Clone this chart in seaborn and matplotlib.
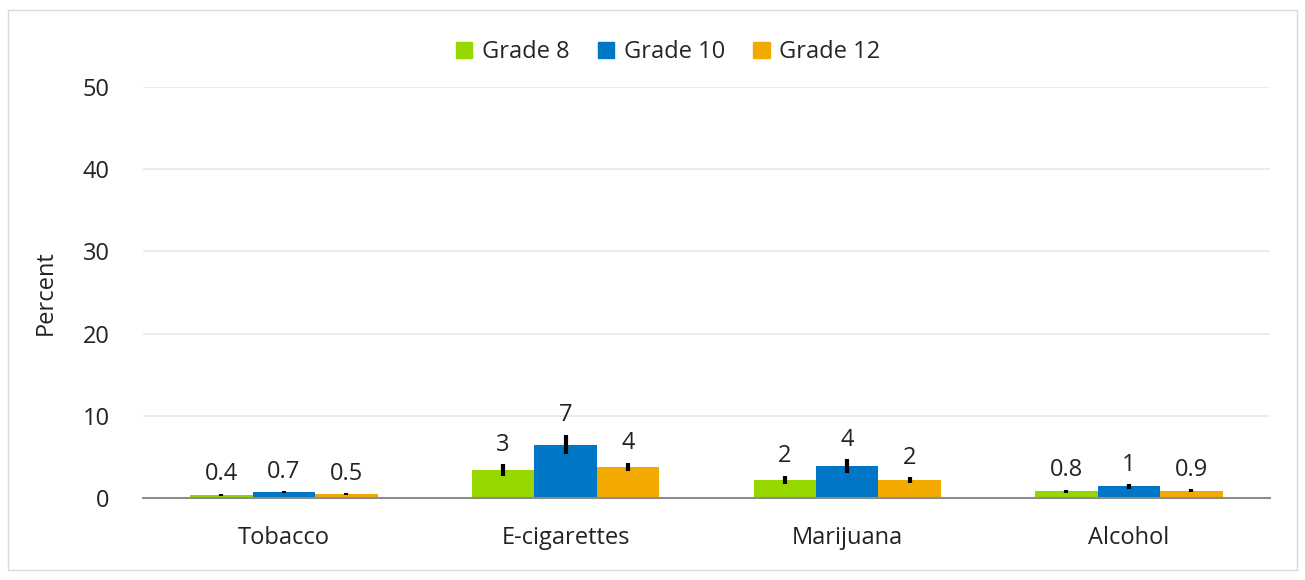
import matplotlib.pyplot as plt
import matplotlib.patches as mpatches
import seaborn as sns
import pandas as pd

# ── Data ──────────────────────────────────────────────────────────────────────

substances = ["Tobacco", "E-cigarettes", "Marijuana", "Alcohol"]
grades = ["Grade 8", "Grade 10", "Grade 12"]

grade8 = [0.4, 3.4, 2.2, 0.8]
grade10 = [0.7, 6.5, 3.9, 1.4]
grade12 = [0.5, 3.8, 2.2, 0.9]

err8 = [0.1, 0.7, 0.5, 0.2]
err10 = [0.1, 1.2, 0.85, 0.3]
err12 = [0.1, 0.5, 0.35, 0.15]

labels8 = ["0.4", "3", "2", "0.8"]
labels10 = ["0.7", "7", "4", "1"]
labels12 = ["0.5", "4", "2", "0.9"]

PALETTE = {"Grade 8": "#97d700", "Grade 10": "#0076c6", "Grade 12": "#f2a900"}
FS = 17

# ── Config ────────────────────────────────────────────────────────────────────

sns.set_theme(style="white")
plt.rcParams["font.family"] = ["Open Sans", "DejaVu Sans"]

rows = []
for g, vals, errs, labs in [
    ("Grade 8", grade8, err8, labels8),
    ("Grade 10", grade10, err10, labels10),
    ("Grade 12", grade12, err12, labels12),
]:
    for s, v, e, l in zip(substances, vals, errs, labs):
        rows.append({"Substance": s, "Grade": g, "Percent": v, "err": e, "label": l})
df = pd.DataFrame(rows)

# ── Plot ──────────────────────────────────────────────────────────────────────

fig = plt.figure(figsize=(13.05, 5.8), dpi=100)
ax = fig.add_axes([0.1096, 0.1414, 0.8634, 0.7086])

sns.barplot(
    data=df,
    x="Substance",
    y="Percent",
    hue="Grade",
    order=substances,
    hue_order=grades,
    palette=PALETTE,
    errorbar=None,
    width=0.665,
    saturation=1,
    linewidth=0,
    ax=ax,
)

# error bars and value labels, placed from the drawn bars
bars = [p for p in ax.patches if p.get_height() > 0]
ordered = df.set_index(["Grade", "Substance"]).loc[
    [(g, s) for g in grades for s in substances]
]
for bar, (_, row) in zip(bars, ordered.iterrows()):
    x = bar.get_x() + bar.get_width() / 2
    h = bar.get_height()
    ax.errorbar(x, h, yerr=row["err"], fmt="none", ecolor="black",
                elinewidth=3, capsize=0, zorder=5)
    ax.text(x, h + row["err"] + 0.9, row["label"], ha="center", va="bottom",
            fontsize=FS, color="#222222")

ax.set_ylim(0, 50)
ax.set_yticks([0, 10, 20, 30, 40, 50])
ax.set_xlim(-0.5, 3.5)
ax.yaxis.grid(True, color="#e8e8e8", linewidth=1.2)
ax.set_axisbelow(True)
for side in ["top", "right", "left"]:
    ax.spines[side].set_visible(False)
ax.spines["bottom"].set_color("#8c8c8c")
ax.spines["bottom"].set_linewidth(1.5)
ax.tick_params(axis="y", length=0, labelsize=FS, colors="#222222", pad=24)
ax.tick_params(axis="x", length=0, labelsize=FS, colors="#222222", pad=20)
ax.set_xlabel("")
ax.set_ylabel("Percent", fontsize=FS, color="#222222", labelpad=18)

handles = [mpatches.Patch(color=PALETTE[g], label=g) for g in grades]
ax.legend(
    handles=handles,
    loc="center",
    bbox_to_anchor=(0.466, 1.085),
    ncol=3,
    frameon=False,
    fontsize=FS,
    handlelength=0.7,
    handleheight=0.7,
    handletextpad=0.4,
    columnspacing=1.2,
)

fig.patches.append(
    mpatches.Rectangle((0.006, 0.017), 0.988, 0.966, transform=fig.transFigure,
                       fill=False, edgecolor="#d9d9d9", linewidth=1)
)

fig.savefig("out.png", dpi=100)
